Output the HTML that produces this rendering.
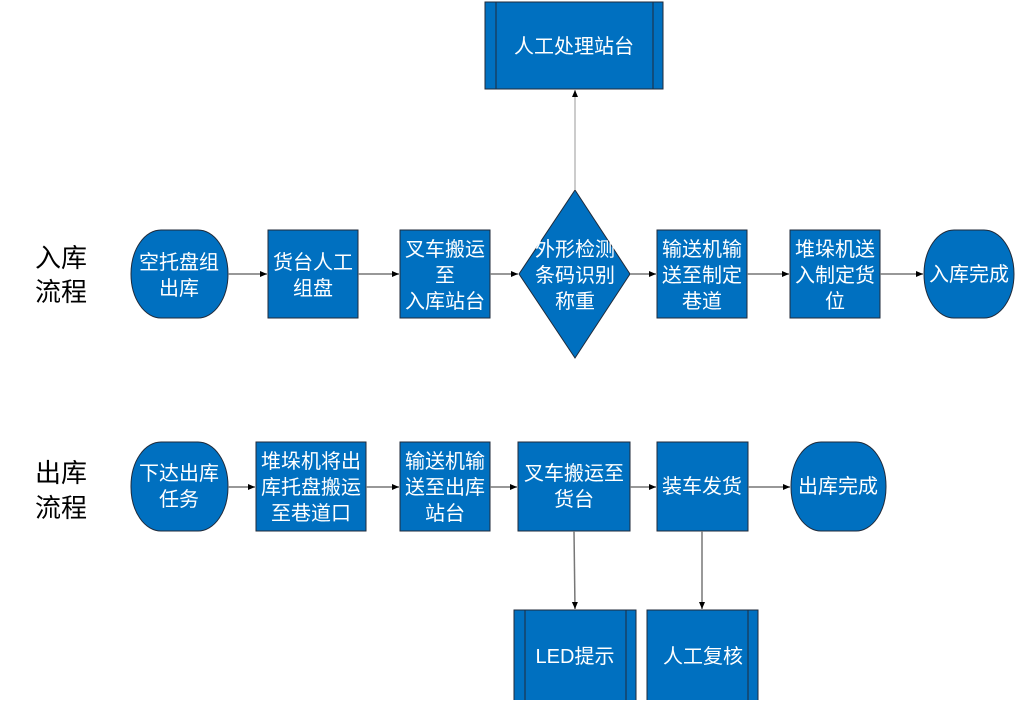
<!DOCTYPE html>
<html><head><meta charset="utf-8"><style>
html,body{margin:0;padding:0;background:#fff;}
svg text{font-family:"Liberation Sans","Noto Sans CJK SC",sans-serif;}
</style></head><body>
<svg width="1028" height="700" viewBox="0 0 1028 700" xmlns="http://www.w3.org/2000/svg">
<defs>
<marker id="a" markerWidth="8" markerHeight="8" refX="7" refY="4" orient="auto" markerUnits="userSpaceOnUse">
<path d="M0,1 L7,4 L0,7 Z" fill="#000"/></marker>
</defs>
<g fill="#0070C0" stroke="#1f2a3a" stroke-width="1">
<rect x="485" y="2" width="178" height="87"/>
<line x1="496" y1="2" x2="496" y2="89"/><line x1="653" y1="2" x2="653" y2="89"/>
<rect x="131" y="230" width="97" height="88" rx="30" ry="44"/>
<rect x="268" y="230" width="90" height="88"/>
<rect x="400" y="230" width="90" height="88"/>
<polygon points="575,190 630,274 575,358 519,274"/>
<rect x="657" y="230" width="90" height="88"/>
<rect x="790" y="230" width="90" height="88"/>
<rect x="924" y="230" width="90" height="88" rx="30" ry="44"/>
<rect x="131" y="442" width="97" height="89" rx="30" ry="44"/>
<rect x="256" y="442" width="110" height="89"/>
<rect x="400" y="442" width="90" height="89"/>
<rect x="518" y="442" width="112" height="89"/>
<rect x="657" y="442" width="91" height="89"/>
<rect x="791" y="442" width="95" height="89" rx="30" ry="44"/>
<rect x="514" y="610" width="122" height="92"/>
<line x1="525" y1="610" x2="525" y2="700"/><line x1="626" y1="610" x2="626" y2="700"/>
<rect x="647" y="610" width="111" height="92"/>
<line x1="748" y1="610" x2="748" y2="700"/>
</g>
<g stroke="#777" stroke-width="1.5" fill="none" marker-end="url(#a)">
<line x1="228" y1="274" x2="267" y2="274"/>
<line x1="358" y1="274" x2="399" y2="274"/>
<line x1="490" y1="274" x2="518" y2="274"/>
<line x1="630" y1="274" x2="656" y2="274"/>
<line x1="747" y1="274" x2="789" y2="274"/>
<line x1="880" y1="274" x2="923" y2="274"/>
<line x1="575" y1="190" x2="575" y2="90" stroke="#bbb"/>
<line x1="228" y1="487" x2="255" y2="487"/>
<line x1="366" y1="487" x2="399" y2="487"/>
<line x1="490" y1="487" x2="517" y2="487"/>
<line x1="630" y1="487" x2="656" y2="487"/>
<line x1="748" y1="487" x2="790" y2="487"/>
<line x1="574" y1="531" x2="575" y2="609"/>
<line x1="702" y1="531" x2="702" y2="609"/>
</g>
<g fill="#000" font-size="26">
<text x="35" y="267">入库</text><text x="35" y="301">流程</text>
<text x="35" y="482">出库</text><text x="35" y="517">流程</text>
</g>
<g fill="#fff" font-size="20" text-anchor="middle">
<text x="574" y="53">人工处理站台</text>
<text x="179" y="269">空托盘组</text><text x="179" y="295">出库</text>
<text x="313" y="269">货台人工</text><text x="313" y="295">组盘</text>
<text x="445" y="256">叉车搬运</text><text x="445" y="282">至</text><text x="445" y="308">入库站台</text>
<text x="575" y="256">外形检测</text><text x="575" y="282">条码识别</text><text x="575" y="308">称重</text>
<text x="702" y="256">输送机输</text><text x="702" y="282">送至制定</text><text x="702" y="308">巷道</text>
<text x="835" y="256">堆垛机送</text><text x="835" y="282">入制定货</text><text x="835" y="308">位</text>
<text x="969" y="281">入库完成</text>
<text x="179" y="480">下达出库</text><text x="179" y="506">任务</text>
<text x="311" y="468">堆垛机将出</text><text x="311" y="494">库托盘搬运</text><text x="311" y="520">至巷道口</text>
<text x="445" y="468">输送机输</text><text x="445" y="494">送至出库</text><text x="445" y="520">站台</text>
<text x="574" y="480">叉车搬运至</text><text x="574" y="506">货台</text>
<text x="702" y="493">装车发货</text>
<text x="838" y="493">出库完成</text>
<text x="575" y="663">LED提示</text>
<text x="703" y="663">人工复核</text>
</g>
</svg>
</body></html>
